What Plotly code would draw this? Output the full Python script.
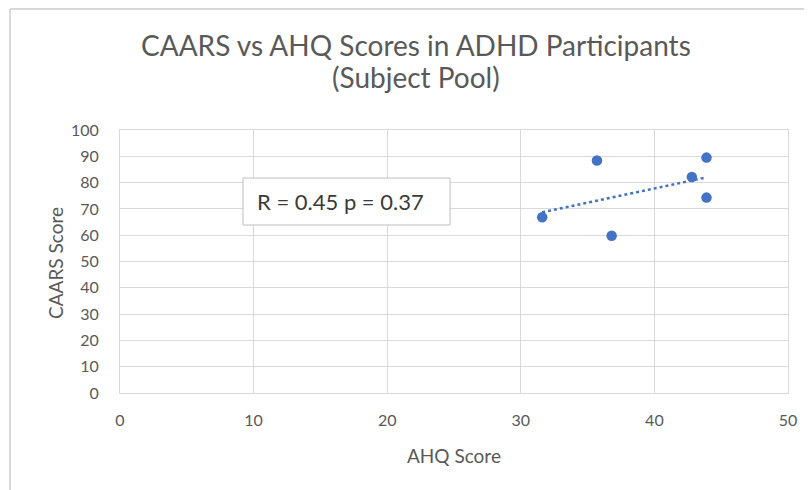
import numpy as np
import plotly.graph_objects as go

# Data
ahq_scores = [31.6, 35.7, 36.8, 42.8, 43.9, 43.9]
caars_scores = [66.8, 88.4, 59.8, 82.1, 89.5, 74.3]
x_ticks = [0, 10, 20, 30, 40, 50]
y_ticks = [0, 10, 20, 30, 40, 50, 60, 70, 80, 90, 100]
title_lines = ["CAARS vs AHQ Scores in ADHD Participants", "(Subject Pool)"]
x_title = "AHQ Score"
y_title = "CAARS Score"
stats_label = "R = 0.45 p = 0.37"

BLUE = "#4472C4"
GRID = "#d9d9d9"
TEXT = "#595959"
FONT = "Lato"

# Linear trendline (least squares, like the spreadsheet trendline)
slope, intercept = np.polyfit(ahq_scores, caars_scores, 1)
trend_x = [min(ahq_scores), max(ahq_scores)]
trend_y = [slope * v + intercept for v in trend_x]

fig = go.Figure()
fig.add_trace(go.Scatter(
    x=trend_x, y=trend_y, mode="lines",
    line=dict(color=BLUE, width=2.5, dash="dot"),
    hoverinfo="skip", showlegend=False,
))
fig.add_trace(go.Scatter(
    x=ahq_scores, y=caars_scores, mode="markers",
    marker=dict(color=BLUE, size=10.5),
    showlegend=False,
))

# page is offset by 8px (body margin); figure coords = page coords - 8
W, H = 804, 482
L, R, T, B = 112, 24, 122, 97
pw, ph = W - L - R, H - T - B


def px(xf):
    return (xf - L) / pw


def py(yf):
    return (H - B - yf) / ph


fig.update_layout(
    width=W, height=H,
    margin=dict(l=L, r=R, t=T, b=B),
    paper_bgcolor="white", plot_bgcolor="white",
    font=dict(family=FONT, color=TEXT),
    xaxis=dict(
        range=[0, 50], tickvals=x_ticks, showgrid=True, gridcolor=GRID, gridwidth=1,
        zeroline=False, showline=True, linecolor=GRID, linewidth=1, mirror=True,
        tickfont=dict(family=FONT, size=16, color=TEXT),
        ticks="", ticklabelstandoff=13,
    ),
    yaxis=dict(
        range=[0, 100], tickvals=y_ticks, showgrid=True, gridcolor=GRID, gridwidth=1,
        zeroline=False, showline=True, linecolor=GRID, linewidth=1, mirror=True,
        tickfont=dict(family=FONT, size=16, color=TEXT),
        ticks="", ticklabelstandoff=17,
    ),
    showlegend=False,
)

# Title lines
for line, yc in zip(title_lines, [37, 69]):
    fig.add_annotation(
        xref="paper", yref="paper", x=px(408), y=py(yc),
        xanchor="center", yanchor="middle", showarrow=False,
        text=line, font=dict(family=FONT, size=28, color=TEXT),
    )

# Axis titles
fig.add_annotation(
    xref="paper", yref="paper", x=px(446), y=py(447),
    xanchor="center", yanchor="middle", showarrow=False,
    text=x_title, font=dict(family=FONT, size=19, color=TEXT),
)
fig.add_annotation(
    xref="paper", yref="paper", x=px(47), y=py(255),
    xanchor="center", yanchor="middle", showarrow=False, textangle=-90,
    text=y_title, font=dict(family=FONT, size=19, color=TEXT),
)

# Stats box (box as shape, text as annotation)
fig.add_shape(
    type="rect", xref="paper", yref="paper",
    x0=px(235), x1=px(442), y0=py(217), y1=py(170),
    fillcolor="white", line=dict(color="#bfbfbf", width=1), layer="above",
)
fig.add_annotation(
    xref="paper", yref="paper", x=px(332), y=py(193.5),
    xanchor="center", yanchor="middle",
    text=stats_label, showarrow=False,
    font=dict(family=FONT, size=22, color="#3a3a3a"),
)

# Chart-area border (top and left edges visible in reference)
bx = px(2)
by = py(1)
fig.add_shape(type="line", xref="paper", yref="paper", x0=bx, y0=by, x1=px(W + 5), y1=by,
              line=dict(color=GRID, width=2))
fig.add_shape(type="line", xref="paper", yref="paper", x0=bx, y0=by, x1=bx, y1=py(H + 5),
              line=dict(color=GRID, width=2))

fig.write_html("out.html")
